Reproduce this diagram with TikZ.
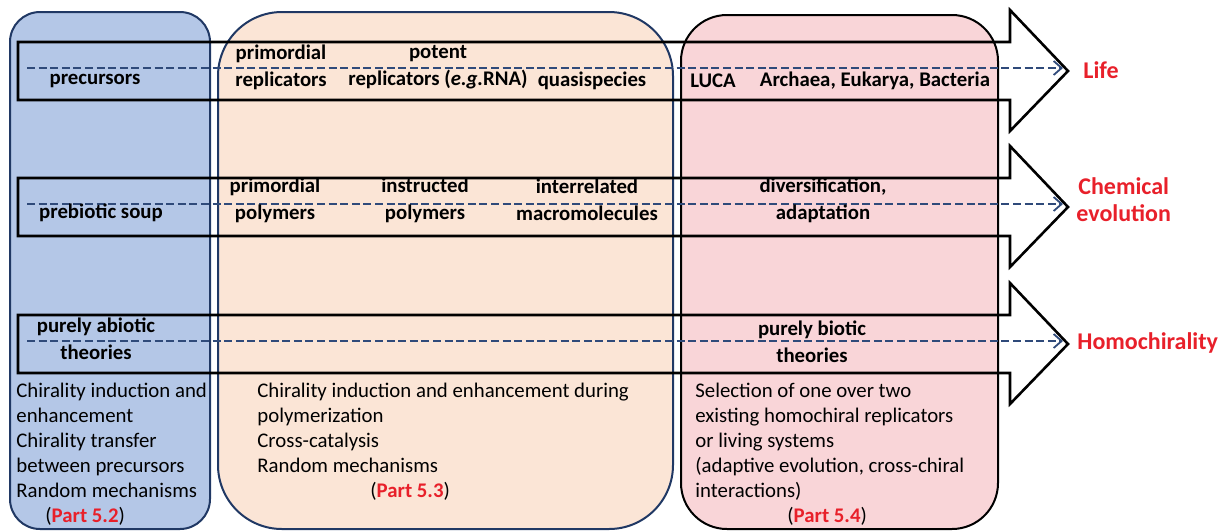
\documentclass[tikz,border=0pt]{standalone}
\usepackage{fontspec}
\setmainfont{Carlito}
\usetikzlibrary{arrows.meta}
\definecolor{boxblue}{HTML}{B4C7E7}
\definecolor{boxpeach}{HTML}{FBE5D6}
\definecolor{boxpink}{HTML}{F9D5D8}
\definecolor{navy}{HTML}{203864}
\definecolor{dashblue}{HTML}{2F4A7A}
\definecolor{partred}{HTML}{E8202A}
\tikzset{
  stage/.style={line width=1pt},
  bigarrow/.style={line width=1.3pt,line join=miter},
  flow/.style={dash pattern=on 4pt off 1.8pt,line width=0.9pt,dashblue,
    -{Straight Barb[length=4pt,width=7pt]}},
  lbl/.style={font=\fontsize{10.4}{13.5}\selectfont\bfseries,align=center,inner sep=0pt},
  goal/.style={font=\fontsize{12}{13.5}\selectfont\bfseries,text=partred,
    align=center,inner sep=0pt,anchor=west},
  desc/.style={font=\fontsize{10.4}{12.5}\selectfont,align=left,inner sep=0pt,anchor=north west},
}
\newcommand{\partref}[1]{(\textcolor{partred}{\textbf{Part #1}})}
\begin{document}
\begin{tikzpicture}[x=0.5pt,y=-0.5pt]
  \useasboundingbox (0,0) rectangle (1221,531);
  % stage boxes
  \draw[stage,navy,fill=boxblue,rounded corners=15pt] (10,12) rectangle (210,529);
  \draw[stage,navy,fill=boxpeach,rounded corners=32pt] (218,12) rectangle (673,529);
  \draw[stage,black,fill=boxpink,rounded corners=23pt] (681,15) rectangle (998,529);
  % one big outlined arrow per level, dashed flow inside
  \foreach \m/\n in {71/life,207/chem,344/homo}{
    \draw[bigarrow] (18,\m-29) -- (1010,\m-29) -- (1010,\m-61) -- (1068,\m)
      -- (1010,\m+60) -- (1010,\m+29) -- (18,\m+29) -- cycle;
    \coordinate (\n-s) at (27,\m-3);
    \coordinate (\n-e) at (1063,\m-3);
    \draw[flow] (\n-s) -- (\n-e);
  }
  % level: life
  \node[lbl] (prec) at (95,81) {precursors};
  \node[lbl] (primrep) at (281,67.5) {primordial\\replicators};
  \node[lbl] (potrep) at (438,67.5) {potent\\replicators (\textit{e.g.}RNA)};
  \node[lbl] (quasi) at (592,81) {quasispecies};
  \node[lbl] (luca) at (713,81) {LUCA};
  \node[lbl] (domains) at (875,81) {Archaea, Eukarya, Bacteria};
  \node[goal] (life) at (1083,70) {Life};
  % level: chemical evolution
  \node[lbl] (soup) at (101,213) {prebiotic soup};
  \node[lbl] (primpol) at (275,200) {primordial\\polymers};
  \node[lbl] (instpol) at (425,200) {instructed\\polymers};
  \node[lbl] (macro) at (587,200) {interrelated\\macromolecules};
  \node[lbl] (divers) at (823,200) {diversification,\\adaptation};
  \node[goal] (chem) at (1076,200) {Chemical\\evolution};
  % level: homochirality
  \node[lbl] (abiotic) at (96,339) {purely abiotic\\theories};
  \node[lbl] (biotic) at (812,342) {purely biotic\\theories};
  \node[goal] (homo) at (1077,343) {Homochirality};
  % mechanisms under each stage
  \node[desc] (abiodesc) at (16,383) {Chirality induction and\\enhancement\\Chirality transfer\\
    between precursors\\Random mechanisms\\\hspace*{14.5pt}\partref{5.2}};
  \node[desc] (polydesc) at (257,383) {Chirality induction and enhancement during\\
    polymerization\\Cross-catalysis\\Random mechanisms\\\hspace*{56.5pt}\partref{5.3}};
  \node[desc] (biodesc) at (695,383) {Selection of one over two\\existing homochiral replicators\\
    or living systems\\(adaptive evolution, cross-chiral\\interactions)\\\hspace*{46pt}\partref{5.4}};
\end{tikzpicture}
\end{document}
